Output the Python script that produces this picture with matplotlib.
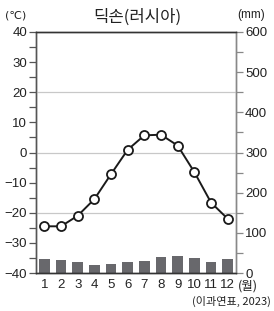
import matplotlib
matplotlib.use("Agg")
import matplotlib.pyplot as plt
from matplotlib.ticker import MultipleLocator

plt.rcParams['font.family'] = ['Liberation Sans', 'Noto Sans CJK KR', 'DejaVu Sans']

months = [1, 2, 3, 4, 5, 6, 7, 8, 9, 10, 11, 12]
month_labels = ['1', '2', '3', '4', '5', '6', '7', '8', '9', '10', '11', '12']
temperature = [-24.5, -24.5, -21.0, -15.5, -7.2, 0.9, 5.7, 5.9, 2.3, -6.5, -16.6, -22.0]
precipitation = [34, 32, 27, 20, 22, 27, 31, 40, 42, 37, 27, 35]

fig = plt.figure(figsize=(2.74, 3.11), dpi=100)
ax = fig.add_axes([36/274, 1-273/311, 200/274, 241/311])
ax2 = ax.twinx()

ax.set_xlim(0.5, 12.5)
ax.set_ylim(-40, 40)
ax2.set_ylim(0, 600)

for g in [20, 0, -20]:
    ax.axhline(g, color='#c8c8c8', lw=0.9, zorder=0)

ax2.bar(months, precipitation, width=0.65, color='#68686c', zorder=1)

ax.set_zorder(ax2.get_zorder() + 1)
ax.patch.set_visible(False)
ax.plot(months, temperature, color='#1a1a1a', lw=1.4, marker='o', ms=6.5,
        mfc='white', mec='#1a1a1a', mew=1.3, zorder=3)

ax.yaxis.set_major_locator(MultipleLocator(10))
ax.yaxis.set_minor_locator(MultipleLocator(5))
ax2.yaxis.set_major_locator(MultipleLocator(100))
ax2.yaxis.set_minor_locator(MultipleLocator(50))

ax.set_xticks(months)
ax.set_xticklabels(month_labels)
ax.tick_params(axis='x', length=0, pad=4, labelsize=9.5, colors='#222222')
ax.tick_params(axis='y', which='major', length=5, width=0.9, color='#555555', labelsize=9.5, labelcolor='#222222', pad=1.5)
ax.tick_params(axis='y', which='minor', length=5, width=0.9, color='#555555')
ax2.tick_params(axis='y', which='major', length=5, width=0.9, color='#888888', labelsize=9.5, labelcolor='#222222', pad=1.5)
ax2.tick_params(axis='y', which='minor', length=5, width=0.9, color='#888888')

for a in (ax, ax2):
    a.spines['top'].set_color('#333333')
    a.spines['bottom'].set_color('#333333')
    a.spines['left'].set_color('#555555')
    a.spines['right'].set_color('#888888')
    for s in a.spines.values():
        s.set_linewidth(1.0)

fig.text(137/274, 1-17/311, '딕손(러시아)', ha='center', va='center', fontsize=12,
         fontweight='medium', color='#222222', family=['Noto Sans CJK KR'])
fig.text(16/274, 1-15/311, '(℃)', ha='center', va='center', fontsize=8, color='#222222',
         family=['DejaVu Sans'])
fig.text(251/274, 1-15/311, '(mm)', ha='center', va='center', fontsize=8.5, color='#222222')
fig.text(238/274, 1-286/311, '(월)', ha='left', va='center', fontsize=9, color='#222222',
         family=['Noto Sans CJK KR'])
fig.text(271/274, 1-301/311, '(이과연표, 2023)', ha='right', va='center', fontsize=8, color='#222222',
         family=['Noto Sans CJK KR'])

fig.savefig('out.png', dpi=100)
